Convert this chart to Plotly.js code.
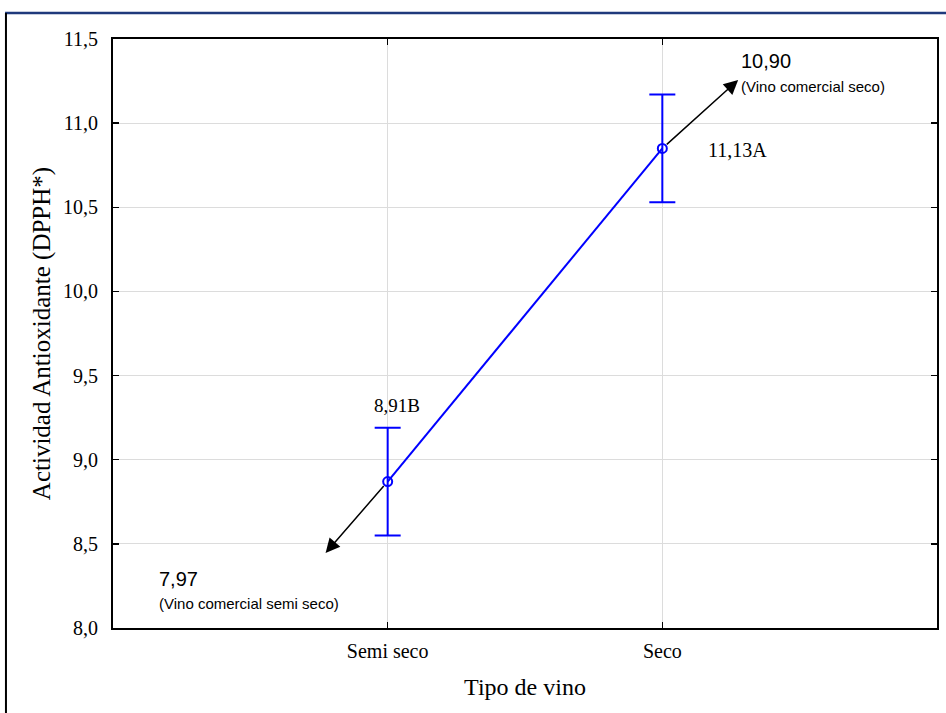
<!DOCTYPE html>
<html>
<head>
<meta charset="utf-8">
<script src="https://cdn.plot.ly/plotly-3.0.1.min.js"></script>
<style>
  html, body { margin: 0; padding: 0; background: #ffffff; }
  #chart { width: 946px; height: 713px; }
</style>
</head>
<body>
<div id="chart"></div>
<script>
// ---- data ----
var categories = ['Semi seco', 'Seco'];
var means = [8.87, 10.85];
var errors = [0.32, 0.32];
var meanLabels = ['8,91B', '11,13A'];
var commercialValues = ['7,97', '10,90'];
var commercialLabels = ['(Vino comercial semi seco)', '(Vino comercial seco)'];
var yTickVals = [8.0, 8.5, 9.0, 9.5, 10.0, 10.5, 11.0, 11.5];

var serif = 'Liberation Serif, Times New Roman, serif';
var sans = 'Liberation Sans, Arial, sans-serif';
var blue = '#0000ff';

// positions of arrow heads and commercial labels (layout only)
var arrowHeads = [{x: -0.226, y: 8.446}, {x: 1.276, y: 11.256}];
var commPos = [{x: -0.84, y: 8.29, sy: 8.143}, {x: 1.28, y: 11.37, sy: 11.22}];

var trace = {
  type: 'scatter',
  mode: 'lines+markers',
  x: [0, 1],
  y: means,
  line: {color: blue, width: 2},
  marker: {symbol: 'circle-open', size: 9, color: blue, line: {width: 2, color: blue}},
  error_y: {type: 'data', array: errors, visible: true, color: blue, thickness: 2, width: 13},
  hoverinfo: 'skip',
  showlegend: false
};

var annotations = [];
annotations.push({x: 0, y: means[0] + errors[0], xref: 'x', yref: 'y', text: meanLabels[0],
  showarrow: false, yanchor: 'bottom', yshift: 10, xshift: 9,
  font: {family: serif, size: 19, color: '#000'}});
annotations.push({x: 1, y: means[1], xref: 'x', yref: 'y', text: meanLabels[1],
  showarrow: false, xanchor: 'left', yanchor: 'middle', xshift: 44, yshift: -2,
  font: {family: serif, size: 20, color: '#000'}});
for (var i = 0; i < 2; i++) {
  annotations.push({x: arrowHeads[i].x, y: arrowHeads[i].y, xref: 'x', yref: 'y',
    ax: i, ay: means[i], axref: 'x', ayref: 'y', text: '', showarrow: true,
    arrowhead: 2, arrowsize: 1.9, arrowwidth: 1.5, arrowcolor: '#000', standoff: 0, startstandoff: 4});
  annotations.push({x: commPos[i].x, y: commPos[i].y, xref: 'x', yref: 'y', text: commercialValues[i],
    showarrow: false, xanchor: 'left', yanchor: 'middle',
    font: {family: sans, size: 20, color: '#000'}});
  annotations.push({x: commPos[i].x, y: commPos[i].sy, xref: 'x', yref: 'y', text: commercialLabels[i],
    showarrow: false, xanchor: 'left', yanchor: 'middle',
    font: {family: sans, size: 15, color: '#000'}});
}

var layout = {
  width: 946, height: 713,
  margin: {l: 113, r: 9, t: 39, b: 85},
  paper_bgcolor: '#ffffff', plot_bgcolor: '#ffffff',
  separators: ', ',
  showlegend: false,
  xaxis: {
    range: [-1, 2],
    tickvals: [0, 1], ticktext: categories,
    showgrid: true, gridcolor: '#dcdcdc', gridwidth: 1,
    zeroline: false,
    showline: true, linecolor: '#000', linewidth: 2, mirror: 'allticks',
    ticks: 'inside', ticklen: 6, tickwidth: 1.5, tickcolor: '#000',
    ticklabelstandoff: 4,
    tickfont: {family: serif, size: 20, color: '#000'},
    title: {text: 'Tipo de vino', font: {family: serif, size: 24, color: '#000'}, standoff: 17}
  },
  yaxis: {
    range: [8, 11.5],
    tickvals: yTickVals, tickformat: '.1f',
    showgrid: true, gridcolor: '#dcdcdc', gridwidth: 1,
    zeroline: false,
    showline: true, linecolor: '#000', linewidth: 2, mirror: 'allticks',
    ticks: 'inside', ticklen: 6, tickwidth: 1.5, tickcolor: '#000',
    ticklabelstandoff: 9,
    tickfont: {family: serif, size: 20, color: '#000'},
    title: {text: 'Actividad Antioxidante (DPPH*)', font: {family: serif, size: 25, color: '#000'}, standoff: 5}
  },
  annotations: annotations,
  shapes: [
    {type: 'line', xref: 'paper', yref: 'paper', x0: -0.131, x1: 1.02, y0: 1.0441, y1: 1.0441,
      line: {color: '#1f3a7c', width: 2.5}},
    {type: 'line', xref: 'paper', yref: 'paper', x0: -0.1299, x1: -0.1299, y0: 1.0441, y1: -0.15,
      line: {color: '#000', width: 2}}
  ]
};

Plotly.newPlot('chart', [trace], layout, {staticPlot: true, displayModeBar: false});
</script>
</body>
</html>
